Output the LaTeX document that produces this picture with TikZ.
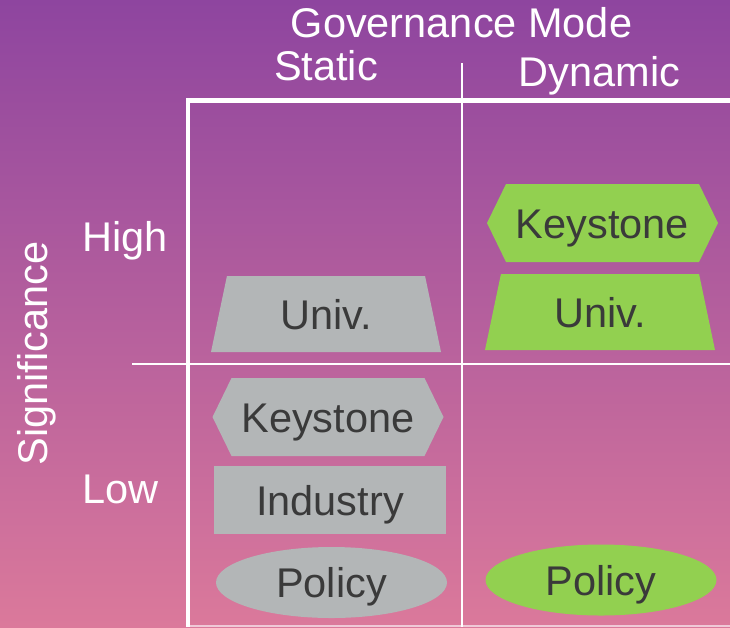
\documentclass[tikz,border=0pt]{standalone}
\usepackage{fontspec}
\setmainfont{Liberation Sans}
\usetikzlibrary{shapes.geometric,shapes.symbols}
\definecolor{bgtop}{RGB}{142,69,159}
\definecolor{bgbottom}{RGB}{219,121,155}
\definecolor{boxgray}{RGB}{179,182,183}
\definecolor{boxgreen}{RGB}{146,208,80}
\definecolor{boxtext}{RGB}{58,58,58}

\begin{document}
\begin{tikzpicture}[x=1pt, y=-1pt, font=\fontsize{41.5}{50}\selectfont,
  lab/.style = {text=white, inner sep=0pt},
  item/.style = {text=boxtext, inner sep=0pt, text height=30pt, text depth=0pt},
  univ/.style = {item, trapezium, trapezium stretches body, trapezium left angle=62, trapezium right angle=62, minimum width=230pt, minimum height=76pt, fill=#1},
  keystone/.style = {item, signal, signal to=east and west, signal pointer angle=128, minimum width=231pt, minimum height=78pt, fill=#1},
  industry/.style = {item, rectangle, minimum width=232pt, minimum height=68pt, fill=#1},
  policy/.style = {item, ellipse, minimum width=231pt, minimum height=71pt, fill=#1}]
\useasboundingbox (0,0) rectangle (730,627);
\fill[top color=bgtop, bottom color=bgbottom] (0,0) rectangle (730,627);

% grid
\coordinate (corner) at (188,100.5);
\coordinate (leftend) at (188,627);
\coordinate (topend) at (730,100.5);
\coordinate (midtop) at (462,63);
\coordinate (midbot) at (462,627);
\coordinate (rowleft) at (132,364);
\coordinate (rowright) at (730,364);
\coordinate (botleft) at (188,626);
\coordinate (botright) at (730,626);
\draw[white, line width=4.5pt] (leftend) -- (corner) -- (topend);
\draw[white, line width=1.5pt] (midtop) -- (midbot);
\draw[white, line width=1.5pt] (rowleft) -- (rowright);
\draw[white, opacity=0.6, line width=1.5pt] (botleft) -- (botright);

% axis labels
\node[lab, anchor=base] (gov) at (461.5,37) {Governance Mode};
\node[lab, anchor=base] (static) at (326,80) {Static};
\node[lab, anchor=base] (dynamic) at (599.5,86) {Dynamic};
\node[lab, anchor=base west] (high) at (82,251) {High};
\node[lab, anchor=base west] (low) at (82,503) {Low};
\node[lab, anchor=base, rotate=90] (sig) at (47,353.5) {Significance};

% static column
\node[univ=boxgray] (suniv) at (326,314) {Univ.};
\node[keystone=boxgray] (skey) at (328,417) {Keystone};
\node[industry=boxgray] (sind) at (330,500) {Industry};
\node[policy=boxgray] (spol) at (331.5,582.5) {Policy};

% dynamic column
\node[keystone=boxgreen] (dkey) at (602.5,223) {Keystone};
\node[univ=boxgreen] (duniv) at (600,312) {Univ.};
\node[policy=boxgreen] (dpol) at (601,580) {Policy};
\end{tikzpicture}
\end{document}
